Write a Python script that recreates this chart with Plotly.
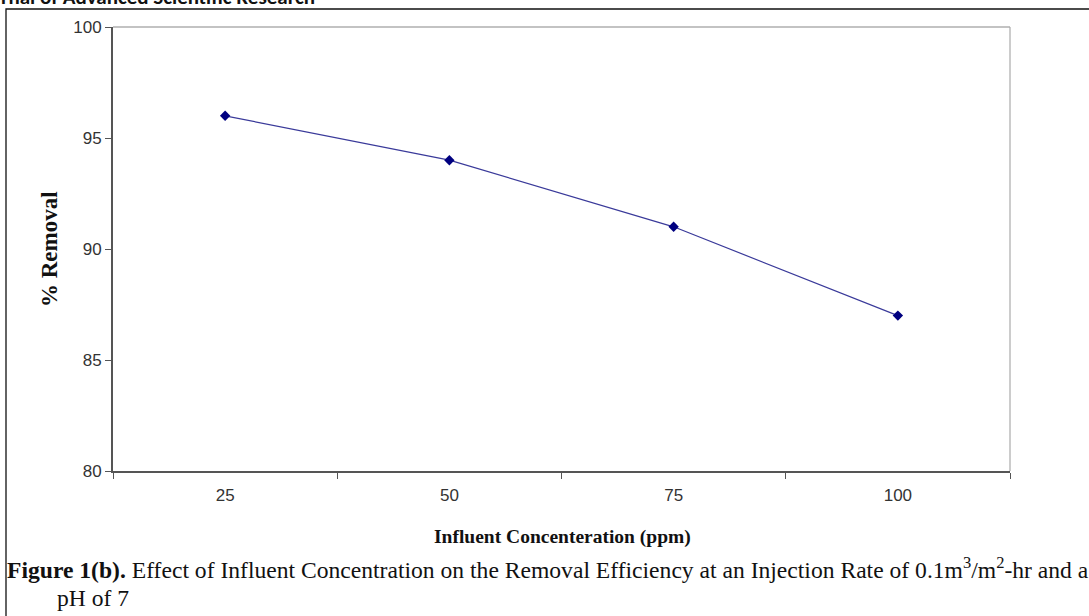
import plotly.graph_objects as go

categories = ["25", "50", "75", "100"]
removal = [96, 94, 91, 87]
y_ticks = [80, 85, 90, 95, 100]

W, H = 1089, 616
L, R, T, B = 113, 1010, 27, 471

def px(x):
    return (x - L) / (R - L)

def py(y):
    return (B - y) / (B - T)

tick_font = dict(size=17, family="Liberation Sans Narrow, Arial Narrow, Liberation Sans", color="#333")
serif = "Liberation Serif, Times New Roman"

fig = go.Figure()
fig.add_trace(go.Scatter(
    x=categories, y=removal, mode="lines+markers",
    line=dict(color="#3a3a9a", width=1.2),
    marker=dict(symbol="diamond", size=8, color="#000080"),
    showlegend=False, hoverinfo="skip",
))

fig.update_layout(
    width=W, height=H,
    margin=dict(l=L, r=W - R, t=T, b=H - B),
    paper_bgcolor="white", plot_bgcolor="white",
    font=dict(family="Liberation Sans, Arial", color="#222"),
    xaxis=dict(
        type="category", range=[-0.5, 3.5],
        tickson="boundaries", ticks="outside", ticklen=6, tickwidth=1.2, tickcolor="#555",
        showline=True, linecolor="#555", linewidth=2, mirror=False,
        showgrid=False, zeroline=False,
        tickfont=tick_font, ticklabelstandoff=8,
    ),
    yaxis=dict(
        range=[80, 100], tickvals=y_ticks,
        ticks="outside", ticklen=6, tickwidth=1.2, tickcolor="#555",
        showline=True, linecolor="#555", linewidth=2,
        showgrid=False, zeroline=False,
        tickfont=tick_font,
    ),
    shapes=[
        dict(type="line", xref="paper", yref="paper", x0=0, x1=1, y0=1, y1=1,
             line=dict(color="#888", width=1.2)),
        dict(type="line", xref="paper", yref="paper", x0=1, x1=1, y0=0, y1=1,
             line=dict(color="#aaa", width=1.2)),
        dict(type="rect", xref="paper", yref="paper",
             x0=px(6), x1=px(1095), y0=py(625), y1=py(9),
             line=dict(color="#111", width=1.3), fillcolor="rgba(0,0,0,0)", layer="below"),
    ],
    annotations=[
        dict(text="<b>rnal of Advanced Scientific Research</b>", xref="paper", yref="paper",
             x=px(-1), y=py(-3), xanchor="left", yanchor="middle", showarrow=False,
             font=dict(family="Carlito, Liberation Sans, Arial", size=21, color="#111")),
        dict(text="<b>% Removal</b>", xref="paper", yref="paper",
             x=px(49), y=py(249), xanchor="center", yanchor="middle", textangle=-90,
             showarrow=False, font=dict(family=serif, size=23, color="#111")),
        dict(text="<b>Influent Concenteration (ppm)</b>", xref="paper", yref="paper",
             x=px(562), y=py(537), xanchor="center", yanchor="middle",
             showarrow=False, font=dict(family=serif, size=19.5, color="#111")),
        dict(text="<b>Figure 1(b).</b> Effect of Influent Concentration on the Removal Efficiency at an Injection Rate of 0.1m<sup>3</sup>/m<sup>2</sup>-hr and a",
             xref="paper", yref="paper", x=px(5), y=py(568), xanchor="left", yanchor="middle",
             showarrow=False, font=dict(family=serif, size=23.6, color="#111")),
        dict(text="pH of 7", xref="paper", yref="paper", x=px(55), y=py(598), xanchor="left", yanchor="middle",
             showarrow=False, font=dict(family=serif, size=23.6, color="#111")),
    ],
)

fig.write_html("out.html")
